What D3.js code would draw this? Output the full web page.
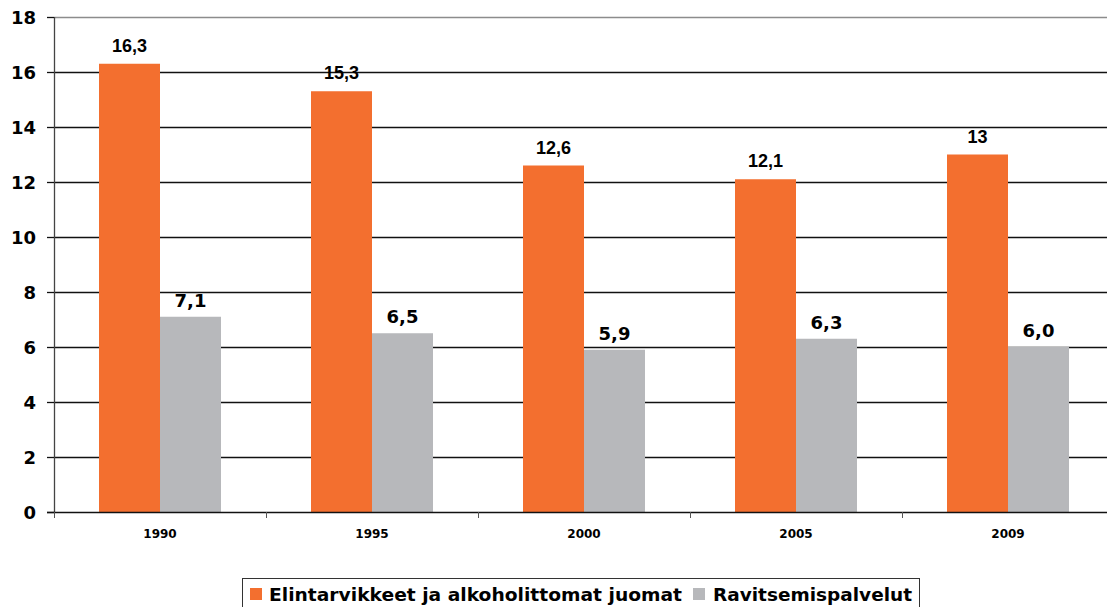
<!DOCTYPE html>
<html>
<head>
<meta charset="utf-8">
<script src="https://cdn.jsdelivr.net/npm/d3@7"></script>
<style>
body { margin: 0; background: #fff; }
svg { display: block; }
</style>
</head>
<body>
<script>
// data
var years = ["1990", "1995", "2000", "2005", "2009"];
var food = [16.3, 15.3, 12.6, 12.1, 13.0];
var foodLabels = ["16,3", "15,3", "12,6", "12,1", "13"];
var catering = [7.1, 6.5, 5.9, 6.3, 6.0];
var cateringLabels = ["7,1", "6,5", "5,9", "6,3", "6,0"];
var seriesNames = ["Elintarvikkeet ja alkoholittomat juomat", "Ravitsemispalvelut"];
var yTicks = [0, 2, 4, 6, 8, 10, 12, 14, 16, 18];

var colors = ["#F36F2F", "#B7B8BB"];

var svg = d3.select("body").append("svg")
    .attr("width", 1107)
    .attr("height", 607);

var x = d3.scaleBand().domain(years).range([54, 1114]);
var y = d3.scaleLinear().domain([0, 18]).range([512, 17]);
var barW = 61;

// gridlines
svg.append("g").selectAll("line")
    .data(yTicks.filter(function(d) { return d > 0; }))
    .enter().append("line")
    .attr("x1", 54).attr("x2", 1114)
    .attr("y1", function(d) { return y(d) + 0.5; })
    .attr("y2", function(d) { return y(d) + 0.5; })
    .attr("stroke", function(d) { return d == 18 ? "#8c8c8c" : "#111"; })
    .attr("stroke-width", 1.3);

// bars
var groups = svg.append("g").selectAll("g")
    .data(years)
    .enter().append("g");

groups.append("rect")
    .attr("x", function(d) { return x(d) + x.bandwidth() / 2 - barW; })
    .attr("y", function(d, i) { return y(food[i]); })
    .attr("width", barW)
    .attr("height", function(d, i) { return y(0) - y(food[i]); })
    .attr("fill", colors[0]);

groups.append("rect")
    .attr("x", function(d) { return x(d) + x.bandwidth() / 2; })
    .attr("y", function(d, i) { return y(catering[i]); })
    .attr("width", barW)
    .attr("height", function(d, i) { return y(0) - y(catering[i]); })
    .attr("fill", colors[1]);

// value labels
groups.append("text")
    .attr("x", function(d) { return x(d) + x.bandwidth() / 2 - barW / 2; })
    .attr("y", function(d, i) { return y(food[i]) - 12; })
    .attr("text-anchor", "middle")
    .style("font-family", "'Liberation Sans', Arial, sans-serif")
    .style("font-weight", "bold")
    .style("font-size", "18px")
    .text(function(d, i) { return foodLabels[i]; });

groups.append("text")
    .attr("x", function(d) { return x(d) + x.bandwidth() / 2 + barW / 2; })
    .attr("y", function(d, i) { return y(catering[i]) - 10; })
    .attr("text-anchor", "middle")
    .style("font-family", "'DejaVu Sans', Verdana, sans-serif")
    .style("font-weight", "bold")
    .style("font-size", "18px")
    .text(function(d, i) { return cateringLabels[i]; });

// y axis
var yAxis = svg.append("g");
yAxis.append("line")
    .attr("x1", 54.5).attr("x2", 54.5)
    .attr("y1", 17).attr("y2", 513)
    .attr("stroke", "#444").attr("stroke-width", 1.3);
yAxis.selectAll(".tick").data(yTicks).enter().append("line")
    .attr("x1", 47).attr("x2", 54)
    .attr("y1", function(d) { return y(d) + 0.5; })
    .attr("y2", function(d) { return y(d) + 0.5; })
    .attr("stroke", "#111").attr("stroke-width", 1.3);
yAxis.selectAll("text").data(yTicks).enter().append("text")
    .attr("x", 36)
    .attr("y", function(d) { return y(d) + 7; })
    .attr("text-anchor", "end")
    .style("font-family", "'DejaVu Sans', Verdana, sans-serif")
    .style("font-weight", "bold")
    .style("font-size", "18px")
    .text(function(d) { return d; });

// x axis
var xAxis = svg.append("g");
xAxis.append("line")
    .attr("x1", 47).attr("x2", 1114)
    .attr("y1", 512.5).attr("y2", 512.5)
    .attr("stroke", "#111").attr("stroke-width", 1.5);
xAxis.selectAll(".tick").data(years).enter().append("line")
    .attr("x1", function(d) { return x(d) + 0.5; })
    .attr("x2", function(d) { return x(d) + 0.5; })
    .attr("y1", 512).attr("y2", 518)
    .attr("stroke", "#555").attr("stroke-width", 1);
xAxis.selectAll("text").data(years).enter().append("text")
    .attr("x", function(d) { return x(d) + x.bandwidth() / 2; })
    .attr("y", 538)
    .attr("text-anchor", "middle")
    .style("font-family", "'DejaVu Sans', Verdana, sans-serif")
    .style("font-weight", "bold")
    .style("font-size", "12px")
    .text(function(d) { return d; });

// legend
var legend = svg.append("g");
legend.append("rect")
    .attr("x", 242.5).attr("y", 578.5)
    .attr("width", 677).attr("height", 40)
    .attr("fill", "none")
    .attr("stroke", "#333").attr("stroke-width", 1);

var legendItems = [
    { sx: 250, tx: 269, w: 413 },
    { sx: 693, tx: 713, w: 199 }
];
legendItems.forEach(function(it, i) {
    legend.append("rect")
        .attr("x", it.sx).attr("y", 588)
        .attr("width", 12).attr("height", 12)
        .attr("fill", colors[i]);
    legend.append("text")
        .attr("x", it.tx).attr("y", 601)
        .attr("textLength", it.w)
        .attr("lengthAdjust", "spacingAndGlyphs")
        .style("font-family", "'DejaVu Sans', Verdana, sans-serif")
        .style("font-weight", "bold")
        .style("font-size", "18px")
        .text(seriesNames[i]);
});
</script>
</body>
</html>
